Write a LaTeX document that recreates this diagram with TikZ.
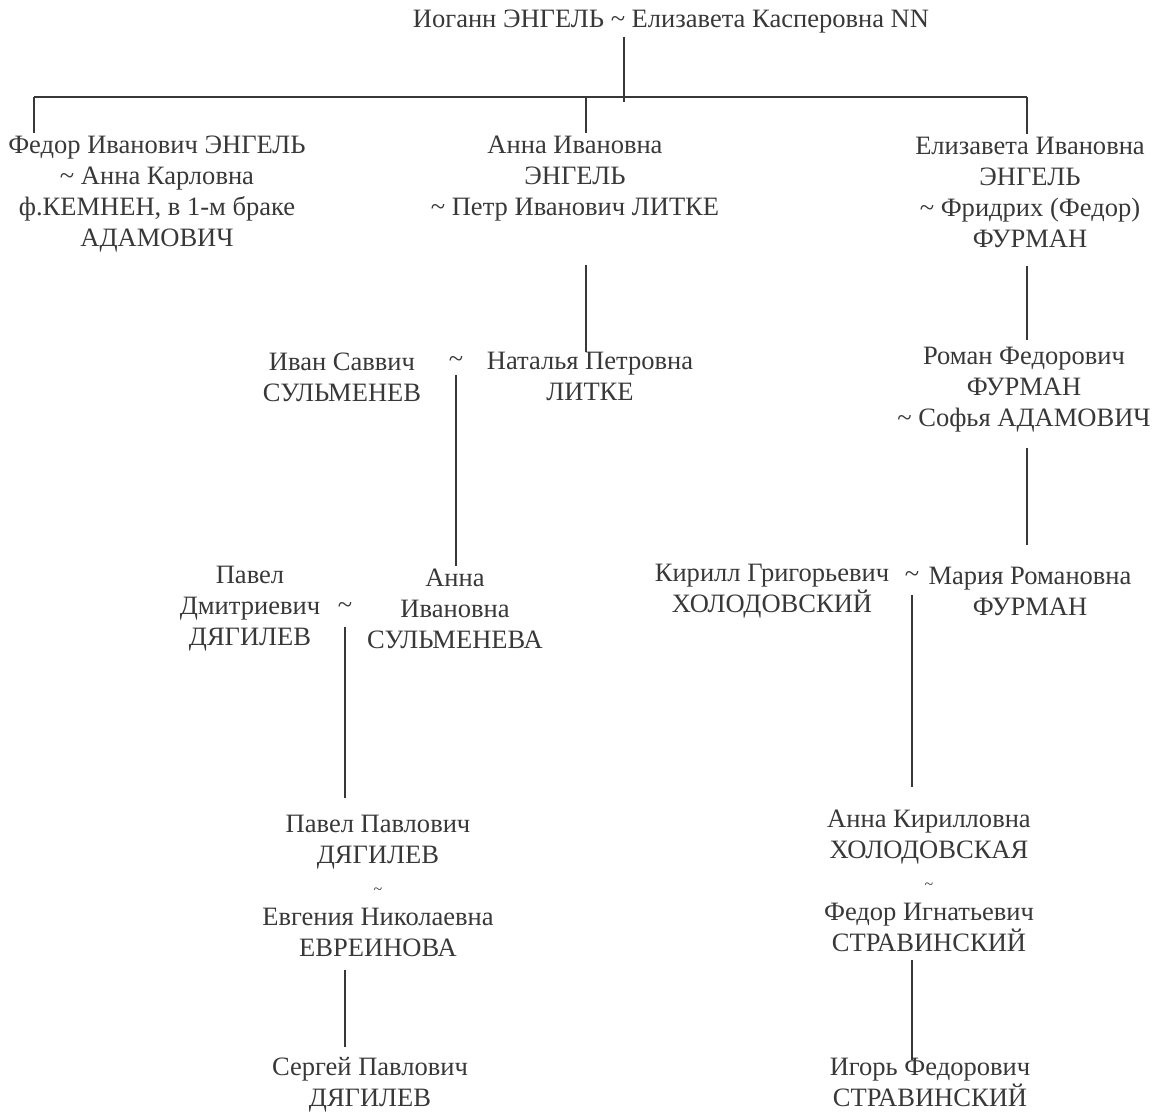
\documentclass[tikz,border=0pt]{standalone}
\usepackage{fontspec}
\setmainfont{Liberation Serif}
\usepackage{xcolor}
\usetikzlibrary{positioning, calc}
\definecolor{inkgray}{HTML}{383838}

\begin{document}
\begin{tikzpicture}[x=0.75pt, y=-0.75pt, line/.style={draw=inkgray, line width=1pt}, person/.style={align=center, text=inkgray, inner sep=2pt, font=\fontsize{19.9}{23.25}\selectfont}, tie/.style={text=inkgray, inner sep=1pt, font=\fontsize{19.9}{23.25}\selectfont}]

		\useasboundingbox (0,0) rectangle (1156,1113);

		% Nodes
		\node[person] (top) at (671,22) {Иоганн ЭНГЕЛЬ \textasciitilde{} Елизавета Касперовна NN};
		\node[person] (fedor) at (157,194) {Федор Иванович ЭНГЕЛЬ\\\textasciitilde{} Анна Карловна\\ф.КЕМНЕН, в 1-м браке\\АДАМОВИЧ};
		\node[person] (anna) at (575,179) {Анна Ивановна\\ЭНГЕЛЬ\\\textasciitilde{} Петр Иванович ЛИТКЕ};
		\node[person] (eliz) at (1030,192) {Елизавета Ивановна\\ЭНГЕЛЬ\\\textasciitilde{} Фридрих (Федор)\\ФУРМАН};

		\node[person] (ivan) at (342,377) {Иван Саввич\\СУЛЬМЕНЕВ};
		\node[tie] (til1) at (456,362) {\textasciitilde};
		\node[person] (natalia) at (590,376) {Наталья Петровна\\ЛИТКЕ};
		\node[person] (roman) at (1024,390) {Роман Федорович\\ФУРМАН\\\textasciitilde{} Софья АДАМОВИЧ};

		\node[person] (pavelD) at (250,609) {Павел\\Дмитриевич\\ДЯГИЛЕВ};
		\node[tie] (til2) at (345,608) {\textasciitilde};
		\node[person] (annaS) at (455,609) {Анна\\Ивановна\\СУЛЬМЕНЕВА};
		\node[person] (kirill) at (772,591) {Кирилл Григорьевич\\ХОЛОДОВСКИЙ};
		\node[tie] (til3) at (912,577) {\textasciitilde};
		\node[person] (maria) at (1030,591) {Мария Романовна\\ФУРМАН};

		\node[person] (pavelP) at (378,886) {Павел Павлович\\ДЯГИЛЕВ\\{\fontsize{12}{23.25}\selectfont\textasciitilde}\\Евгения Николаевна\\ЕВРЕИНОВА};
		\node[person] (annaK) at (929,881) {Анна Кирилловна\\ХОЛОДОВСКАЯ\\{\fontsize{12}{23.25}\selectfont\textasciitilde}\\Федор Игнатьевич\\СТРАВИНСКИЙ};
		\node[person] (sergey) at (370,1085) {Сергей Павлович\\ДЯГИЛЕВ};
		\node[person] (igor) at (930,1082) {Игорь Федорович\\СТРАВИНСКИЙ};

		% Bus
		\coordinate (stem) at (624,102);
		\coordinate (busL) at (34,97);
		\coordinate (busM) at (586,97);
		\coordinate (busR) at (1027,97);

		% Edges (descent)
		\path[line]
		(top.south -| stem) edge (stem)
		(busL) edge[line width=1.5pt] (busR)
		(busL) edge (busL |- fedor.north)
		(busM) edge (busM |- anna.north)
		(busR) edge (busR |- eliz.north)
		(anna.south -| busM) edge[shorten <=30pt, shorten >=-2.5pt] (natalia.north -| busM)
		(eliz.south -| busR) edge[shorten <=12pt, shorten >=3.75pt] (roman.north -| busR)
		(roman.south -| busR) edge[shorten <=9.75pt, shorten >=14pt] (maria.north -| busR)
		(til1.south) edge[shorten <=4.5pt] (til1.south |- annaS.north)
		(til2.south) edge[shorten <=9pt, shorten >=11pt] (til2.south |- pavelP.north)
		(til3.south) edge[shorten <=8pt, shorten >=15pt] (til3.south |- annaK.north)
		(pavelP.south -| til2) edge[shorten <=7.5pt, shorten >=5.7pt] (sergey.north -| til2)
		(annaK.south -| til3) edge[shorten <=3.75pt, shorten >=-4pt] (igor.north -| til3);
	\end{tikzpicture}
\end{document}
